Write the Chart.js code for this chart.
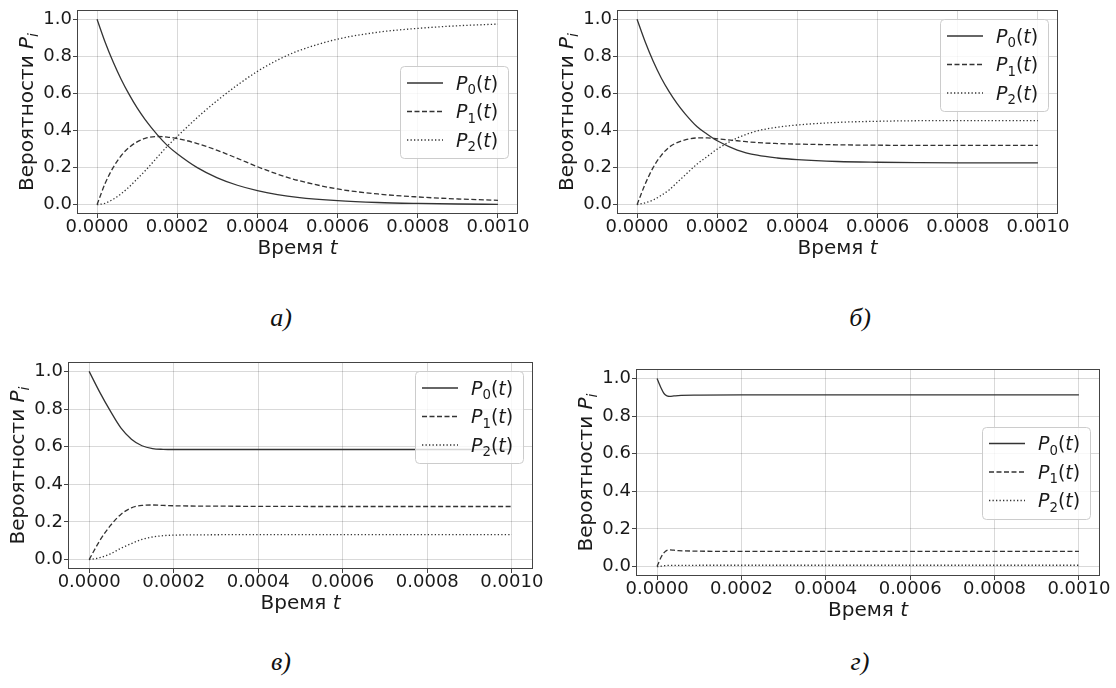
<!DOCTYPE html>
<html>
<head>
<meta charset="UTF-8">
<script src="https://cdn.jsdelivr.net/npm/chart.js"></script>
<style>
  body { margin: 0; background: #fff; }
  .page { position: relative; width: 1116px; height: 688px; overflow: hidden; }
  .panel { position: absolute; }
  .caption {
    position: absolute;
    font: italic 26px "Liberation Serif", serif;
    color: #111;
    transform: translate(-50%, -50%);
  }
</style>
</head>
<body>
<div class="page">
  <div class="panel" id="boxA" style="left:0px;top:0px;width:545px;height:275px"><canvas id="chartA"></canvas></div>
  <div class="panel" id="boxB" style="left:548px;top:0px;width:568px;height:275px"><canvas id="chartB"></canvas></div>
  <div class="panel" id="boxC" style="left:0px;top:345px;width:560px;height:290px"><canvas id="chartC"></canvas></div>
  <div class="panel" id="boxD" style="left:565px;top:350px;width:551px;height:290px"><canvas id="chartD"></canvas></div>

  <div class="caption" style="left:281px;top:318px">а)</div>
  <div class="caption" style="left:860px;top:318px">б)</div>
  <div class="caption" style="left:281px;top:662px">в)</div>
  <div class="caption" style="left:860px;top:662px">г)</div>
</div>

<script>
// axis ticks (shared by all four panels)
const xTicks = [0, 0.0002, 0.0004, 0.0006, 0.0008, 0.001];
const xTickLabels = ['0.0000', '0.0002', '0.0004', '0.0006', '0.0008', '0.0010'];
const yTicks = [0, 0.2, 0.4, 0.6, 0.8, 1.0];
const yTickLabels = ['0.0', '0.2', '0.4', '0.6', '0.8', '1.0'];
const seriesNames = ['P0(t)', 'P1(t)', 'P2(t)'];

// panel а
const tA  = [0, 0.00002, 0.00004, 0.00006, 0.00008, 0.0001, 0.00012, 0.00015, 0.000175, 0.0002, 0.00025, 0.0003, 0.00035, 0.0004, 0.00045, 0.0005, 0.0006, 0.0007, 0.0008, 0.0009, 0.001];
const p0A = [1.0, 0.878, 0.771, 0.677, 0.595, 0.522, 0.459, 0.378, 0.32, 0.275, 0.20, 0.145, 0.105, 0.076, 0.055, 0.04, 0.022, 0.012, 0.007, 0.004, 0.002];
const p1A = [0, 0.114, 0.20, 0.264, 0.309, 0.339, 0.358, 0.368, 0.365, 0.357, 0.33, 0.293, 0.25, 0.205, 0.165, 0.132, 0.085, 0.058, 0.042, 0.031, 0.024];
const p2A = [0, 0.008, 0.029, 0.059, 0.096, 0.139, 0.183, 0.255, 0.315, 0.368, 0.47, 0.562, 0.645, 0.719, 0.78, 0.828, 0.893, 0.93, 0.951, 0.965, 0.974];

// panel б
const tB  = [0, 0.00002, 0.00004, 0.00006, 0.00008, 0.0001, 0.00012, 0.00015, 0.000175, 0.0002, 0.00025, 0.0003, 0.00035, 0.0004, 0.0005, 0.0006, 0.0007, 0.0008, 0.001];
const p0B = [1.0, 0.88, 0.775, 0.685, 0.61, 0.545, 0.49, 0.42, 0.38, 0.345, 0.295, 0.267, 0.252, 0.243, 0.233, 0.229, 0.227, 0.226, 0.226];
const p1B = [0, 0.11, 0.20, 0.265, 0.31, 0.335, 0.35, 0.36, 0.36, 0.355, 0.345, 0.335, 0.33, 0.327, 0.323, 0.321, 0.32, 0.32, 0.32];
const p2B = [0, 0.01, 0.025, 0.05, 0.08, 0.12, 0.16, 0.22, 0.26, 0.30, 0.36, 0.398, 0.418, 0.43, 0.444, 0.45, 0.453, 0.454, 0.454];

// panel в
const tC  = [0, 0.000025, 0.00005, 0.000075, 0.0001, 0.000125, 0.00015, 0.000175, 0.0002, 0.0003, 0.0004, 0.0006, 0.0008, 0.001];
const p0C = [1.0, 0.89, 0.79, 0.70, 0.64, 0.605, 0.59, 0.586, 0.585, 0.585, 0.585, 0.585, 0.585, 0.585];
const p1C = [0, 0.10, 0.18, 0.24, 0.275, 0.288, 0.29, 0.288, 0.286, 0.284, 0.283, 0.282, 0.282, 0.282];
const p2C = [0, 0.01, 0.03, 0.06, 0.085, 0.107, 0.12, 0.127, 0.13, 0.132, 0.133, 0.133, 0.133, 0.133];

// panel г
const tD  = [0, 0.000005, 0.00001, 0.000015, 0.00002, 0.000025, 0.00003, 0.00004, 0.00005, 0.0001, 0.0002, 0.0004, 0.0006, 0.0008, 0.001];
const p0D = [1.0, 0.972, 0.946, 0.925, 0.912, 0.906, 0.905, 0.907, 0.909, 0.911, 0.912, 0.912, 0.912, 0.912, 0.912];
const p1D = [0, 0.028, 0.052, 0.07, 0.082, 0.088, 0.089, 0.087, 0.085, 0.082, 0.081, 0.081, 0.081, 0.081, 0.081];
const p2D = [0, 0.0005, 0.002, 0.004, 0.005, 0.006, 0.006, 0.006, 0.006, 0.007, 0.007, 0.007, 0.007, 0.007, 0.007];

const FONT = '"DejaVu Sans", sans-serif';
const INK = '#1a1a1a';
const LINE = '#333333';
const dashes = [[], [5, 2.5], [1.3, 2.2]];

// draw a row of text pieces: plain, italic, subscript (matplotlib mathtext look)
function drawRuns(ctx, runs, x, y, size, align) {
  const fontOf = r => (r.it ? 'italic ' : '') + (r.sub ? size * 0.7 : size) + 'px ' + FONT;
  let total = 0;
  runs.forEach(r => { ctx.font = fontOf(r); r.w = ctx.measureText(r.t).width; total += r.w; });
  let cx = align === 'center' ? x - total / 2 : x;
  ctx.textAlign = 'left';
  ctx.textBaseline = 'alphabetic';
  runs.forEach(r => {
    ctx.font = fontOf(r);
    ctx.fillText(r.t, cx, y + (r.sub ? size * 0.24 : 0));
    cx += r.w;
  });
}

function legendRuns(i) {
  return [{t: 'P', it: true}, {t: String(i), sub: true}, {t: '('}, {t: 't', it: true}, {t: ')'}];
}

const panelDeco = {
  id: 'panelDeco',
  afterDatasetsDraw(chart, args, opts) {
    const ctx = chart.ctx;
    const ca = chart.chartArea;
    ctx.save();

    // frame on all four sides
    const l = Math.round(ca.left) + 0.5, t = Math.round(ca.top) + 0.5;
    const r = Math.round(ca.right) - 0.5, b = Math.round(ca.bottom) - 0.5;
    ctx.strokeStyle = '#444';
    ctx.lineWidth = 1;
    ctx.strokeRect(l, t, r - l, b - t);

    ctx.fillStyle = INK;
    // x title
    drawRuns(ctx, [{t: 'Время '}, {t: 't', it: true}], (ca.left + ca.right) / 2, ca.bottom + 40, 20, 'center');
    // y title
    ctx.save();
    ctx.translate(ca.left - 44, (ca.top + ca.bottom) / 2);
    ctx.rotate(-Math.PI / 2);
    drawRuns(ctx, [{t: 'Вероятности '}, {t: 'P', it: true}, {t: 'i', it: true, sub: true}], 0, 0, 20, 'center');
    ctx.restore();

    // legend box
    const w = 108, h = 92;
    const x = ca.right - 10 - w;
    const y = opts.pos === 'upper right' ? ca.top + 9 : (ca.top + ca.bottom) / 2 - h / 2;
    ctx.beginPath();
    if (ctx.roundRect) ctx.roundRect(x + 0.5, Math.round(y) + 0.5, w, h, 4);
    else ctx.rect(x + 0.5, Math.round(y) + 0.5, w, h);
    ctx.fillStyle = 'rgba(255,255,255,0.8)';
    ctx.fill();
    ctx.strokeStyle = '#cccccc';
    ctx.stroke();

    chart.data.datasets.forEach((ds, i) => {
      const cy = y + 17 + i * 28.5;
      ctx.strokeStyle = LINE;
      ctx.lineWidth = 1.3;
      ctx.setLineDash(dashes[i]);
      ctx.beginPath();
      ctx.moveTo(x + 7, cy);
      ctx.lineTo(x + 43, cy);
      ctx.stroke();
      ctx.setLineDash([]);
      ctx.fillStyle = INK;
      drawRuns(ctx, legendRuns(i), x + 56, cy + 6.5, 19, 'left');
    });
    ctx.restore();
  }
};

function series(t, vals, i) {
  return {
    label: seriesNames[i],
    data: t.map((v, k) => ({x: v, y: vals[k]})),
    borderColor: LINE,
    borderWidth: 1.3,
    borderDash: dashes[i],
    pointRadius: 0,
    fill: false,
    cubicInterpolationMode: 'monotone'
  };
}

function makePanel(canvasId, box, area, t, p0, p1, p2, legendPos) {
  const grid = {color: 'rgba(0,0,0,0.15)', lineWidth: 1, tickColor: '#444', tickLength: 4, tickWidth: 1};
  const tickFont = {family: FONT, size: 18, lineHeight: 1};
  return new Chart(document.getElementById(canvasId), {
    type: 'line',
    data: {datasets: [series(t, p0, 0), series(t, p1, 1), series(t, p2, 2)]},
    options: {
      responsive: true,
      maintainAspectRatio: false,
      animation: false,
      events: [],
      layout: {padding: {left: 0, bottom: 0, top: area.top - box.top, right: box.left + box.width - area.right}},
      plugins: {legend: {display: false}, tooltip: {enabled: false}, panelDeco: {pos: legendPos}},
      scales: {
        x: {
          type: 'linear', min: -0.00005, max: 0.00105,
          afterFit: s => { s.height = box.top + box.height - area.bottom; },
          afterBuildTicks: s => { s.ticks = xTicks.map(v => ({value: v})); },
          ticks: {callback: (v, i) => xTickLabels[i], font: tickFont, color: INK, padding: 0, autoSkip: false, maxRotation: 0},
          grid: grid,
          border: {display: false}
        },
        y: {
          type: 'linear', min: -0.05, max: 1.05,
          afterFit: s => { s.width = area.left - box.left; },
          afterBuildTicks: s => { s.ticks = yTicks.map(v => ({value: v})); },
          ticks: {callback: (v, i) => yTickLabels[i], font: tickFont, color: INK, padding: 1},
          grid: grid,
          border: {display: false}
        }
      }
    },
    plugins: [panelDeco]
  });
}

makePanel('chartA', {left: 0, top: 0, width: 545, height: 275}, {left: 77, top: 10, right: 518, bottom: 214}, tA, p0A, p1A, p2A, 'center right');
makePanel('chartB', {left: 548, top: 0, width: 568, height: 275}, {left: 617, top: 10, right: 1058, bottom: 214}, tB, p0B, p1B, p2B, 'upper right');
makePanel('chartC', {left: 0, top: 345, width: 560, height: 290}, {left: 68, top: 362, right: 533, bottom: 569}, tC, p0C, p1C, p2C, 'upper right');
makePanel('chartD', {left: 565, top: 350, width: 551, height: 290}, {left: 636, top: 369, right: 1100, bottom: 576}, tD, p0D, p1D, p2D, 'center right');
</script>
</body>
</html>
